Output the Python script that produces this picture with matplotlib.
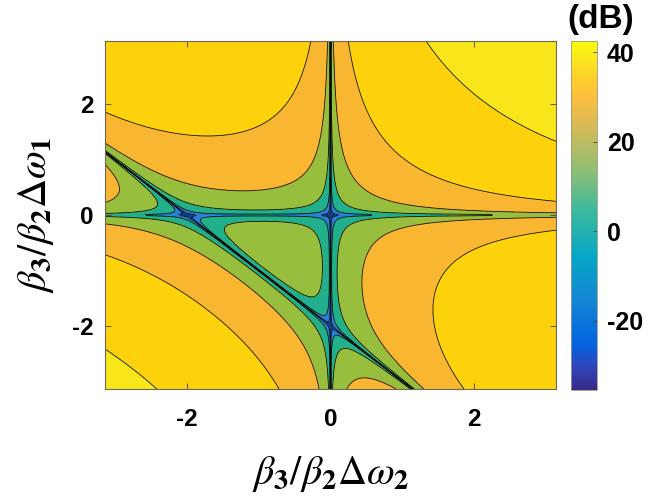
"""
四波混频相位失配分布图 (dB)
"""
import numpy as np
import matplotlib
matplotlib.use("Agg")
import matplotlib.pyplot as plt
from matplotlib.colors import LinearSegmentedColormap, Normalize
from matplotlib.cm import ScalarMappable

# 归一化频偏 β3/β2·Δω 的范围与网格 (奇数点，含 0)
axis_range = (-np.pi, np.pi)
n_x, n_y = 601, 601

# 相位失配 dB 偏移、下限及等值线
db_offset = 4.25
db_floor = -60.0
level_db = [-48.1, -31.9, -15.7, 0.5, 16.7, 32.9]
fill_colors = ["#173a78", "#2a7fd6", "#22b08c", "#97be3d",
               "#f9b631", "#fdd20c", "#f8e61a"]

tick_vals = [-2, 0, 2]
cbar_range = (-35.5, 42.5)
cbar_ticks = [-20, 0, 20, 40]

# parula 近似色表
parula_pts = [
    (0.000, (0.2081, 0.1663, 0.5292)),
    (0.063, (0.1959, 0.2645, 0.7279)),
    (0.127, (0.0117, 0.3875, 0.8820)),
    (0.254, (0.0793, 0.5200, 0.8312)),
    (0.381, (0.0228, 0.6535, 0.7768)),
    (0.508, (0.2178, 0.7250, 0.6193)),
    (0.635, (0.5709, 0.7485, 0.4494)),
    (0.762, (0.8507, 0.7299, 0.3360)),
    (0.841, (0.9938, 0.7455, 0.2403)),
    (0.889, (0.9880, 0.8066, 0.1794)),
    (1.000, (0.9763, 0.9831, 0.0538)),
]
parula = LinearSegmentedColormap.from_list("parula", parula_pts)

x = np.linspace(*axis_range, n_x)
y = np.linspace(*axis_range, n_y)
X, Y = np.meshgrid(x, y)
with np.errstate(divide="ignore"):
    Z = 20 * np.log10(np.abs(X * Y * (X + Y + 2))) + db_offset
Z = np.maximum(Z, db_floor)
# Δω1 = 0 这一行为 -Inf，画成空隙
Z = np.ma.masked_where(np.abs(Y) < 1e-9, Z)

plt.rcParams["font.family"] = ["Liberation Sans", "DejaVu Sans"]
plt.rcParams["mathtext.fontset"] = "stix"
plt.rcParams["axes.unicode_minus"] = False

fig = plt.figure(figsize=(6.49, 5.03), dpi=100)
ax = fig.add_axes([0.1618, 0.2266, 0.6949, 0.6918])
ax.set_facecolor("#9c95ad")   # 空隙处露出的灰色

levels = [-300] + level_db + [300]
ax.contourf(X, Y, Z, levels=levels, colors=fill_colors)
ax.contour(X, Y, Z, levels=level_db, colors="k", linewidths=0.55,
           linestyles="solid")

ax.set_xlim(axis_range)
ax.set_ylim(axis_range)
ax.set_xticks(tick_vals)
ax.set_yticks(tick_vals)
ax.tick_params(direction="in", length=4, width=0.6, top=True, right=True,
               labelsize=17.5, color="#444444")
ax.tick_params(axis="x", pad=14)
ax.tick_params(axis="y", pad=8)
for lab in ax.get_xticklabels() + ax.get_yticklabels():
    lab.set_fontweight("bold")
for sp in ax.spines.values():
    sp.set_color("#6b6b55")
    sp.set_linewidth(0.8)

ax.set_xlabel(r"$\beta_\mathbf{3}/\beta_\mathbf{2}\Delta\omega_\mathbf{2}$",
              fontsize=29, labelpad=16)
ax.set_ylabel(r"$\beta_\mathbf{3}/\beta_\mathbf{2}\Delta\omega_\mathbf{1}$",
              fontsize=29, labelpad=12)

# 色标
cax = fig.add_axes([0.8798, 0.2247, 0.0401, 0.6938])
sm = ScalarMappable(norm=Normalize(*cbar_range), cmap=parula)
cb = fig.colorbar(sm, cax=cax, ticks=cbar_ticks)
cb.outline.set_edgecolor("#9a9a80")
cb.outline.set_linewidth(0.6)
cax.tick_params(direction="in", length=3, width=0.6, labelsize=18, pad=7,
                color="#444444")
for lab in cax.get_yticklabels():
    lab.set_fontweight("bold")
fig.text(0.925, 0.962, "(dB)", fontsize=24, fontweight="bold",
         ha="center", va="center")

plt.savefig("out.png", dpi=100)
plt.close(fig)
